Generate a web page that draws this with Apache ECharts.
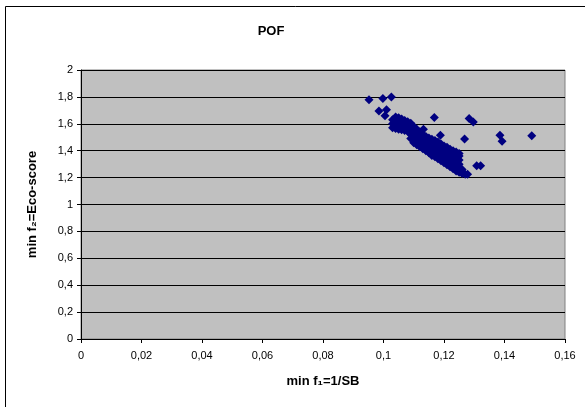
<!DOCTYPE html>
<html>
<head>
<meta charset="utf-8">
<script src="https://cdn.jsdelivr.net/npm/echarts@6/dist/echarts.min.js"></script>
<style>
  html, body { margin: 0; padding: 0; background: #fff; }
  #main { width: 585px; height: 407px; }
</style>
</head>
<body>
<div id="main"></div>
<script>
// scattered points outside the dense front
const outliers = [
  [0.0952, 1.778], [0.0998, 1.789], [0.1026, 1.800], [0.0985, 1.696],
  [0.1010, 1.704], [0.1005, 1.659], [0.1168, 1.647], [0.1132, 1.560],
  [0.1188, 1.515], [0.1283, 1.640], [0.1297, 1.614], [0.1268, 1.487],
  [0.1385, 1.515], [0.1392, 1.470], [0.1490, 1.512], [0.1308, 1.289],
  [0.1321, 1.289]
];

// dense front, read column by column (x, then the y values seen there)
const frontX = [0.103, 0.104, 0.105, 0.106, 0.107, 0.108, 0.109, 0.110, 0.111,
  0.112, 0.113, 0.114, 0.115, 0.116, 0.117, 0.118, 0.119, 0.120, 0.121,
  0.122, 0.123, 0.124, 0.125, 0.126, 0.127, 0.1278];
const frontY = [
  [1.57, 1.60, 1.63],
  [1.565, 1.595, 1.625, 1.65],
  [1.56, 1.59, 1.62, 1.645],
  [1.555, 1.585, 1.61, 1.635],
  [1.55, 1.58, 1.605, 1.625],
  [1.545, 1.575, 1.60, 1.615],
  [1.49, 1.52, 1.55, 1.58, 1.605],
  [1.46, 1.49, 1.52, 1.55, 1.58],
  [1.445, 1.475, 1.505, 1.535, 1.56],
  [1.43, 1.46, 1.49, 1.515, 1.54],
  [1.415, 1.445, 1.475, 1.50, 1.52],
  [1.40, 1.43, 1.46, 1.485, 1.505],
  [1.385, 1.415, 1.445, 1.47, 1.495],
  [1.365, 1.395, 1.425, 1.455, 1.485],
  [1.355, 1.385, 1.415, 1.445, 1.475],
  [1.34, 1.37, 1.40, 1.43, 1.465],
  [1.325, 1.355, 1.385, 1.415, 1.45],
  [1.31, 1.34, 1.37, 1.40, 1.435],
  [1.295, 1.325, 1.355, 1.385, 1.425],
  [1.28, 1.31, 1.34, 1.37, 1.41],
  [1.265, 1.295, 1.325, 1.355, 1.40],
  [1.25, 1.28, 1.31, 1.34, 1.39],
  [1.24, 1.27, 1.30, 1.33, 1.36, 1.38],
  [1.23, 1.26],
  [1.225],
  [1.225]
];

const xTicks = [0, 0.02, 0.04, 0.06, 0.08, 0.1, 0.12, 0.14, 0.16];
const yTicks = [0, 0.2, 0.4, 0.6, 0.8, 1, 1.2, 1.4, 1.6, 1.8, 2];

const points = outliers.slice();
frontX.forEach(function (x, i) {
  frontY[i].forEach(function (y) { points.push([x, y]); });
});

function comma(v) { return String(+v.toFixed(2)).replace('.', ','); }

const chart = echarts.init(document.getElementById('main'));
chart.setOption({
  animation: false,
  backgroundColor: '#fff',
  textStyle: { fontFamily: 'Liberation Sans, Arial, sans-serif' },
  title: {
    text: 'POF',
    left: 266, top: 20, textAlign: 'center',
    textStyle: { fontSize: 13, fontWeight: 'bold', color: '#000' }
  },
  grid: { left: 81, right: 20, top: 70, bottom: 68, show: true,
    backgroundColor: '#c0c0c0', borderColor: '#808080', borderWidth: 1 },
  graphic: [{
    type: 'rect', silent: true, z: 100,
    shape: { x: 5.5, y: 6.5, width: 700, height: 600 },
    style: { fill: 'none', stroke: '#000', lineWidth: 1 }
  }],
  xAxis: {
    type: 'value', min: xTicks[0], max: xTicks[xTicks.length - 1], interval: 0.02,
    name: 'min f\u2081=1/SB', nameLocation: 'middle', nameGap: 36,
    nameTextStyle: { fontSize: 13, fontWeight: 'bold', color: '#000' },
    axisLine: { show: true, lineStyle: { color: '#000' } },
    axisTick: { show: true, length: 4, lineStyle: { color: '#000' } },
    axisLabel: { fontSize: 11, color: '#000', margin: 11, formatter: comma },
    splitLine: { show: false }
  },
  yAxis: {
    type: 'value', min: yTicks[0], max: yTicks[yTicks.length - 1], interval: 0.2,
    name: 'min f\u2082=Eco-score', nameLocation: 'middle', nameGap: 42,
    nameTextStyle: { fontSize: 13, fontWeight: 'bold', color: '#000' },
    axisLine: { show: true, lineStyle: { color: '#000' } },
    axisTick: { show: true, length: 4, lineStyle: { color: '#000' } },
    axisLabel: { fontSize: 11, color: '#000', margin: 8, formatter: comma },
    splitLine: { show: true, lineStyle: { color: '#000', width: 1 } }
  },
  series: [{
    type: 'scatter',
    symbol: 'diamond',
    symbolSize: 9,
    itemStyle: { color: '#000080', opacity: 1 },
    data: points
  }]
});
</script>
</body>
</html>
